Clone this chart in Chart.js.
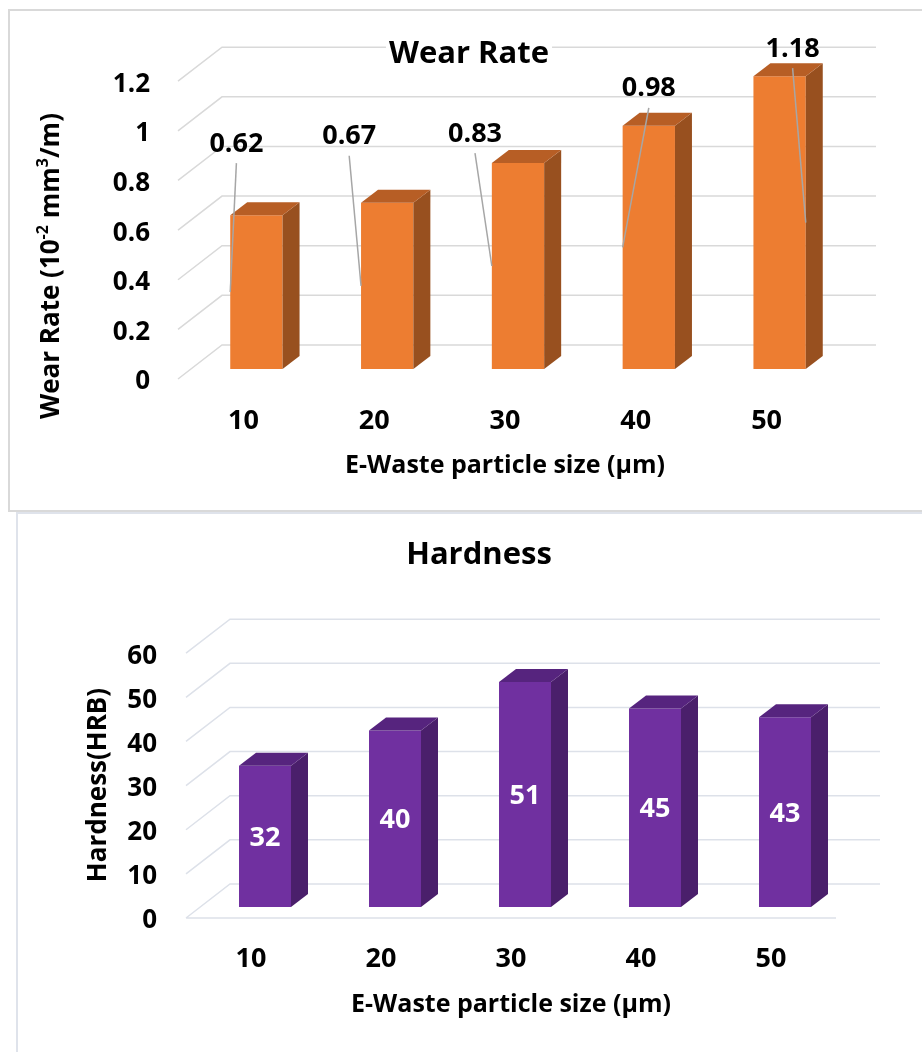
<!DOCTYPE html>
<html>
<head>
<meta charset="utf-8">
<script src="https://cdn.jsdelivr.net/npm/chart.js@4.4.1/dist/chart.umd.min.js"></script>
<style>
  body { margin: 0; background: #fff; width: 922px; height: 1052px; overflow: hidden; position: relative; }
  .panel { position: absolute; box-sizing: border-box; }
  #wearPanel { left: 8px; top: 9px; width: 940px; height: 503px; border: 2px solid #d9d9d9; }
  #hardPanel { left: 16px; top: 512px; width: 940px; height: 560px; border: 2px solid #dfe3eb; }
  canvas { position: absolute; }
  #wearChart { left: 16px; top: 0; }
  #hardChart { left: 36px; top: 511px; }
</style>
</head>
<body>
<div class="panel" id="wearPanel"></div>
<div class="panel" id="hardPanel"></div>
<canvas id="wearChart" width="906" height="511"></canvas>
<canvas id="hardChart" width="886" height="541"></canvas>
<script>
// particle sizes (µm) and measured properties
const sizes = ['10', '20', '30', '40', '50'];
const wearRate = [0.62, 0.67, 0.83, 0.98, 1.18];
const hardness = [32, 40, 51, 45, 43];
const wearRange = [0, 1.2, 0.2];
const hardRange = [0, 60, 10];

const FONT = '"Open Sans", Lato, sans-serif';

// back wall grid + extruded bar faces (fake 3D column chart)
const box3d = {
  id: 'box3d',
  beforeDatasetsDraw(chart, args, o) {
    const { ctx, chartArea: a, scales: { y } } = chart;
    ctx.save();
    ctx.strokeStyle = o.grid;
    ctx.lineWidth = 1.5;
    ctx.beginPath();
    y.ticks.forEach(t => {
      const py = y.getPixelForValue(t.value);
      ctx.moveTo(a.left, py);
      ctx.lineTo(a.left + o.wall[0], py - o.wall[1]);
      ctx.lineTo(a.right + o.wall[0], py - o.wall[1]);
    });
    if (o.floorEdge) {
      const p0 = y.getPixelForValue(0);
      ctx.moveTo(a.left, p0);
      ctx.lineTo(a.right, p0);
    }
    ctx.stroke();

    // the title sits on a white box above the back wall lines
    const tb = chart.titleBlock;
    if (tb && tb.options.display) {
      const font = Chart.helpers.toFont(tb.options.font);
      ctx.font = font.string;
      const w = ctx.measureText(tb.options.text).width;
      const cx = (tb.left + tb.right) / 2;
      const top = tb.top + tb.options.padding.top;
      ctx.fillStyle = '#fff';
      ctx.fillRect(cx - w / 2 - 3, top, w + 6, font.lineHeight);
      tb.draw();
    }
    ctx.restore();

    // columns stand a little behind the front edge of the floor
    ctx.save();
    ctx.translate(o.inset[0], -o.inset[1]);
  },
  afterDatasetsDraw(chart, args, o) {
    const ctx = chart.ctx;
    const [dx, dy] = o.depth;
    chart.getDatasetMeta(0).data.forEach(bar => {
      const l = bar.x - bar.width / 2, r = bar.x + bar.width / 2;
      const t = bar.y, b = bar.base;
      ctx.fillStyle = o.side;
      ctx.beginPath();
      ctx.moveTo(r, t);
      ctx.lineTo(r + dx, t - dy);
      ctx.lineTo(r + dx, b - dy);
      ctx.lineTo(r, b);
      ctx.closePath();
      ctx.fill();
      ctx.fillStyle = o.top;
      ctx.beginPath();
      ctx.moveTo(l, t);
      ctx.lineTo(l + dx, t - dy);
      ctx.lineTo(r + dx, t - dy);
      ctx.lineTo(r, t);
      ctx.closePath();
      ctx.fill();
    });
    ctx.restore();
  }
};

// value labels, either centred in the column or pulled out with a leader line
const barLabels = {
  id: 'barLabels',
  afterDatasetsDraw(chart, args, o) {
    const ctx = chart.ctx;
    const [ix, iy] = o.inset;
    const values = chart.data.datasets[0].data;
    ctx.save();
    ctx.font = o.font;
    ctx.textAlign = 'center';
    ctx.textBaseline = 'middle';
    chart.getDatasetMeta(0).data.forEach((bar, i) => {
      const text = String(values[i]);
      const bx = bar.x + ix;
      const top = bar.y - iy;
      const mid = (bar.y + bar.base) / 2 - iy;
      if (o.callouts) {
        const [ox, oy] = o.callouts[i];
        const cx = bx + ox, cy = top + oy;
        const edge = o.leaderSide[i] === 'right' ? bx + bar.width / 2 : bx - bar.width / 2;
        ctx.strokeStyle = o.leaderColor;
        ctx.lineWidth = 1.5;
        ctx.beginPath();
        ctx.moveTo(cx, cy + 19);
        ctx.lineTo(edge, mid);
        ctx.stroke();
        ctx.fillStyle = o.color;
        ctx.fillText(text, cx, cy);
      } else {
        ctx.fillStyle = o.color;
        ctx.fillText(text, bx, mid + 2);
      }
    });
    ctx.restore();
  }
};

// rotated y-axis title with superscript runs
const sideTitle = {
  id: 'sideTitle',
  afterDraw(chart, args, o) {
    const ctx = chart.ctx;
    const big = `bold ${o.size}px ${FONT}`;
    const small = `bold ${Math.round(o.size * 0.62)}px ${FONT}`;
    ctx.save();
    let w = 0;
    o.runs.forEach(r => { ctx.font = r.sup ? small : big; w += ctx.measureText(r.text).width; });
    ctx.translate(o.x, o.y);
    ctx.rotate(-Math.PI / 2);
    ctx.fillStyle = '#000';
    ctx.textAlign = 'left';
    ctx.textBaseline = 'middle';
    let x = -w / 2;
    o.runs.forEach(r => {
      ctx.font = r.sup ? small : big;
      ctx.fillText(r.text, x, r.sup ? -o.size * 0.32 : 0);
      x += ctx.measureText(r.text).width;
    });
    ctx.restore();
  }
};

function columnChart(id, cfg) {
  return new Chart(document.getElementById(id), {
    type: 'bar',
    data: {
      labels: sizes,
      datasets: [{
        data: cfg.values,
        backgroundColor: cfg.front,
        barPercentage: 0.4,
        categoryPercentage: 1,
        clip: false
      }]
    },
    options: {
      responsive: false,
      animation: false,
      layout: { padding: 0 },
      plugins: {
        legend: { display: false },
        tooltip: { enabled: false },
        title: {
          display: true,
          text: cfg.title,
          color: '#000',
          font: { family: FONT, size: 31, weight: 'bold', lineHeight: 1.2 },
          padding: cfg.titlePad
        },
        box3d: cfg.box,
        barLabels: cfg.labels,
        sideTitle: cfg.yTitle
      },
      scales: {
        x: {
          grid: { display: false, drawTicks: false },
          border: { display: false },
          ticks: { color: '#000', padding: cfg.xTickPad, font: { family: FONT, size: 27, weight: 'bold' } },
          title: {
            display: true,
            text: 'E-Waste particle size (μm)',
            color: '#000',
            font: { family: FONT, size: 25, weight: 'bold', lineHeight: 1.2 },
            padding: { top: 0, bottom: cfg.xTitlePad }
          },
          afterFit: s => { s.height = cfg.xHeight; }
        },
        y: {
          min: cfg.range[0],
          max: cfg.range[1],
          grid: { display: false, drawTicks: false },
          border: { display: false },
          ticks: {
            stepSize: cfg.range[2],
            color: '#000',
            padding: cfg.yTickPad,
            labelOffset: 3,
            font: { family: FONT, size: 26, weight: 'bold' },
            callback: v => String(+v.toFixed(2))
          },
          afterFit: s => { s.width = cfg.yWidth; }
        },
        // empty strip on the right of the plot
        yPad: {
          type: 'linear',
          axis: 'y',
          position: 'right',
          grid: { display: false, drawTicks: false },
          border: { display: false },
          ticks: { display: false },
          afterFit: s => { s.width = cfg.padRight; }
        }
      }
    },
    plugins: [box3d, barLabels, sideTitle]
  });
}

columnChart('wearChart', {
  values: wearRate,
  range: wearRange,
  title: 'Wear Rate',
  titlePad: { top: 36, bottom: 8 },
  front: '#ED7D31',
  padRight: 90,
  yWidth: 162,
  yTickPad: 28,
  xHeight: 132,
  xTickPad: 26,
  xTitlePad: 30,
  box: { grid: '#d9d9d9', wall: [44, 34], inset: [13, 10], depth: [17, 13], side: '#98501F', top: '#B75E25', floorEdge: false },
  labels: {
    inset: [13, 10],
    font: `bold 27px ${FONT}`,
    color: '#000',
    leaderColor: '#a6a6a6',
    callouts: [[-20, -71], [-38, -66], [-43, -29], [0, -37], [13, -27]],
    leaderSide: ['left', 'left', 'left', 'left', 'right']
  },
  yTitle: {
    x: 36, y: 266, size: 26,
    runs: [
      { text: 'Wear Rate (10' }, { text: '-2', sup: true },
      { text: ' mm' }, { text: '3', sup: true }, { text: '/m)' }
    ]
  }
});

columnChart('hardChart', {
  values: hardness,
  range: hardRange,
  title: 'Hardness',
  titlePad: { top: 26, bottom: 79 },
  front: '#7030A0',
  padRight: 86,
  yWidth: 150,
  yTickPad: 29,
  xHeight: 134,
  xTickPad: 25,
  xTitlePad: 32,
  box: { grid: '#dde1e9', wall: [44, 34], inset: [14, 11], depth: [17, 13], side: '#4A1F6B', top: '#56247E', floorEdge: true },
  labels: { inset: [14, 11], font: `bold 27px ${FONT}`, color: '#fff' },
  yTitle: { x: 63, y: 274, size: 26, runs: [{ text: 'Hardness(HRB)' }] }
});
</script>
</body>
</html>
